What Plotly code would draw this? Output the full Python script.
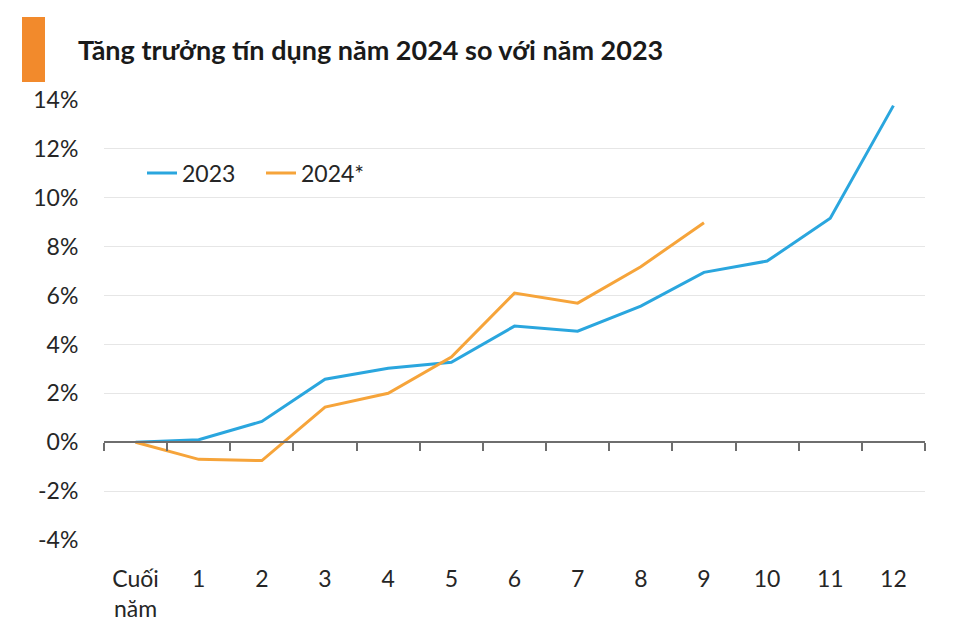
import plotly.graph_objects as go

categories = ["Cuối<br>năm", "1", "2", "3", "4", "5", "6", "7", "8", "9", "10", "11", "12"]
growth_2023 = [0, 0.1, 0.85, 2.58, 3.03, 3.27, 4.75, 4.54, 5.57, 6.95, 7.41, 9.16, 13.77]
growth_2024 = [0, -0.7, -0.75, 1.44, 2.0, 3.48, 6.1, 5.69, 7.18, 8.98]
y_tickvals = [-4, -2, 0, 2, 4, 6, 8, 10, 12, 14]
y_ticktext = ["-4%", "-2%", "0%", "2%", "4%", "6%", "8%", "10%", "12%", "14%"]

FONT = "Lato"
BLUE = "#2aa6de"
ORANGE = "#f6a43a"
TXT = "#262626"

fig = go.Figure()
fig.add_trace(go.Scatter(x=categories, y=growth_2023, mode="lines", name="2023",
                         line=dict(color=BLUE, width=3), hoverinfo="skip"))
fig.add_trace(go.Scatter(x=categories[:len(growth_2024)], y=growth_2024, mode="lines", name="2024*",
                         line=dict(color=ORANGE, width=3), hoverinfo="skip"))
# invisible trace for the zero-line axis
fig.add_trace(go.Scatter(x=categories, y=[None] * len(categories), xaxis="x2", yaxis="y",
                         mode="lines", showlegend=False, hoverinfo="skip"))

y_min, y_max = -4, 14
fig.update_layout(
    width=980, height=624,
    margin=dict(l=104, r=55, t=100, b=84, autoexpand=False),
    paper_bgcolor="white", plot_bgcolor="white",
    font=dict(family=FONT, size=23, color=TXT),
    title=dict(text="Tăng trưởng tín dụng năm 2024 so với năm 2023",
               x=78 / 980, xanchor="left", y=1 - 51 / 624, yanchor="middle",
               font=dict(family=FONT, size=27, color="#1a1a1a", weight="bold")),
    showlegend=True,
    legend=dict(orientation="h", x=(142 - 104) / 821, xanchor="left",
                y=(540 - 173) / 440, yanchor="middle", bgcolor="rgba(0,0,0,0)",
                font=dict(family=FONT, size=23, color=TXT), itemwidth=30,
                entrywidth=74),
    xaxis=dict(type="category", categoryorder="array", categoryarray=categories,
               range=[-0.5, 12.5], showgrid=False, showline=False, zeroline=False,
               automargin=False,
               ticks="outside", ticklen=18, tickcolor="rgba(0,0,0,0)",
               tickfont=dict(family=FONT, size=23, color=TXT)),
    xaxis2=dict(type="category", categoryorder="array", categoryarray=categories,
                range=[-0.5, 12.5], overlaying="x", anchor="free",
                position=(0 - y_min) / (y_max - y_min), side="bottom",
                showgrid=False, showline=True, linecolor="#6e6e6e", linewidth=1.5,
                ticks="outside", tickson="boundaries", ticklen=8, tickwidth=1.5,
                tickcolor="#6e6e6e", showticklabels=False, zeroline=False,
                automargin=False),
    yaxis=dict(range=[y_min, y_max], tickvals=y_tickvals, ticktext=y_ticktext,
               showgrid=True, gridcolor="#e6e6e6", gridwidth=1, zeroline=False,
               showline=False, ticks="outside", ticklen=20, tickcolor="rgba(0,0,0,0)",
               automargin=False,
               tickfont=dict(family=FONT, size=23, color=TXT)),
    shapes=[dict(type="rect", xref="paper", yref="paper",
                 x0=(22 - 104) / 821, x1=(45 - 104) / 821,
                 y0=(540 - 82) / 440, y1=(540 - 17) / 440,
                 fillcolor="#f28a2c", line=dict(width=0))],
)

fig.write_html("out.html")
